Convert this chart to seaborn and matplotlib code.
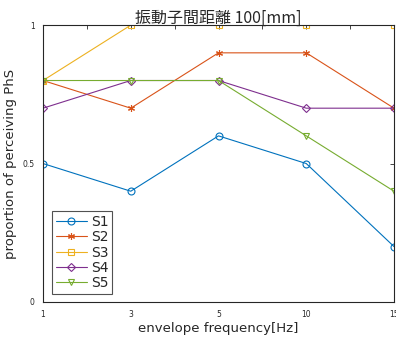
import pandas as pd
import matplotlib
matplotlib.use("Agg")
import matplotlib.pyplot as plt
import seaborn as sns

# data
freq_labels = ['1', '', '3', '', '5', '', '10', '', '15']
x_pos = [1, 2, 3, 4, 5]
s1 = [0.5, 0.4, 0.6, 0.5, 0.2]
s2 = [0.8, 0.7, 0.9, 0.9, 0.7]
s3 = [0.8, 1.0, 1.0, 1.0, 1.0]
s4 = [0.7, 0.8, 0.8, 0.7, 0.7]
s5 = [0.8, 0.8, 0.8, 0.6, 0.4]
subjects = ['S1', 'S2', 'S3', 'S4', 'S5']

sns.set_style("white")
plt.rcParams['font.family'] = ['DejaVu Sans', 'Noto Sans CJK JP']

colors = ['#0072BD', '#D95319', '#EDB120', '#7E2F8E', '#77AC30']
markers = ['o', (6, 2, 0), 's', 'D', 'v']
msizes = [5, 5, 5, 4.5, 5]

df = pd.DataFrame({
    'x': x_pos * 5,
    'y': s1 + s2 + s3 + s4 + s5,
    'subject': [s for s in subjects for _ in x_pos],
})

fig = plt.figure(figsize=(3.96, 3.40), dpi=100)
ax = fig.add_axes([0.1086, 0.112, 0.8864, 0.814])

for i, s in enumerate(subjects):
    sub = df[df['subject'] == s]
    sns.lineplot(data=sub, x='x', y='y', ax=ax, color=colors[i], label=s,
                 marker=markers[i], markersize=msizes[i], linewidth=0.8,
                 markerfacecolor='none' if i != 1 else colors[i],
                 markeredgecolor=colors[i], markeredgewidth=0.8)

ax.set_xlim(1, 5)
ax.set_ylim(0, 1)
ax.set_xticks([1 + 0.5 * k for k in range(9)])
ax.set_xticklabels(freq_labels, fontsize=5.5)
ax.set_yticks([0, 0.5, 1])
ax.set_yticklabels(['0', '0.5', '1'], fontsize=5.5)
ax.tick_params(direction='in', length=3, width=0.6, top=True, right=True,
               colors='#262626', pad=6)
for sp in ax.spines.values():
    sp.set_color('#262626')
    sp.set_linewidth(0.8)

ax.set_title('振動子間距離 100[mm]', fontsize=11.5, pad=2,
             family=['Noto Sans CJK JP', 'DejaVu Sans'])
ax.set_xlabel('envelope frequency[Hz]', fontsize=9.5, labelpad=2)
ax.set_ylabel('proportion of perceiving PhS', fontsize=9.5, labelpad=4)

leg = ax.legend(loc='lower left', bbox_to_anchor=(0.025, 0.027), fontsize=10,
                frameon=True, fancybox=False, edgecolor='#262626',
                handlelength=2.2, handletextpad=0.3, labelspacing=0.1,
                borderpad=0.3, borderaxespad=0)
leg.get_frame().set_linewidth(0.8)

fig.savefig('out.png', dpi=100)
